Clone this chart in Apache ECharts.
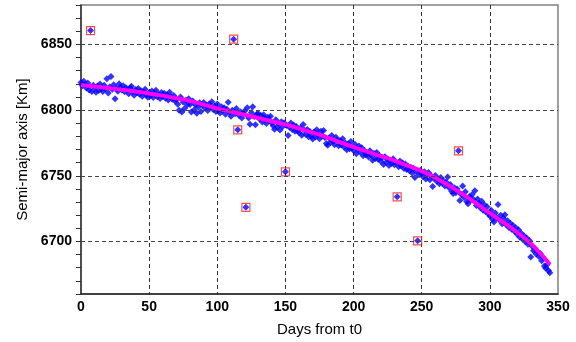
<!DOCTYPE html>
<html>
<head>
<meta charset="utf-8">
<script src="https://cdn.jsdelivr.net/npm/echarts@6/dist/echarts.min.js"></script>
<style>
html,body{margin:0;padding:0;background:#fff;}
#chart{width:576px;height:342px;}
</style>
</head>
<body>
<div id="chart"></div>
<script>
// Daily semi-major axis samples [Km]; array index = day from t0
const semiMajor = [
  6821.0, 6818.5, 6822.0, 6819.5, 6816.8, 6820.7, 6815.3, 6860.5, 6814.2, 6819.0,
  6817.2, 6813.5, 6818.4, 6815.0, 6819.8, 6816.3, 6814.1, 6818.9, 6816.0, 6823.8,
  6813.0, 6817.5, 6825.5, 6815.8, 6819.2, 6808.6, 6816.7, 6814.3, 6820.1, 6817.4,
  6815.2, 6818.6, 6813.9, 6817.0, 6815.5, 6812.4, 6816.8, 6818.2, 6814.0, 6811.3,
  6815.6, 6813.2, 6816.4, 6812.0, 6814.7, 6810.5, 6813.8, 6815.9, 6811.6, 6809.8,
  6813.4, 6811.0, 6814.6, 6809.5, 6812.8, 6815.1, 6810.2, 6812.0, 6808.8, 6813.3,
  6810.4, 6812.9, 6809.0, 6811.7, 6807.6, 6813.5, 6810.1, 6808.3, 6811.2, 6806.9,
  6808.2, 6804.5, 6799.8, 6810.0, 6798.6, 6806.1, 6801.2, 6807.5, 6804.0, 6808.7,
  6804.3, 6798.5, 6806.9, 6800.1, 6803.8, 6797.6, 6802.4, 6805.6, 6799.0, 6803.9,
  6805.8, 6801.5, 6803.9, 6799.7, 6804.6, 6802.2, 6806.3, 6800.4, 6803.1, 6798.9,
  6804.7, 6800.2, 6797.8, 6802.5, 6799.6, 6801.8, 6796.9, 6800.7, 6806.0, 6798.3,
  6795.4, 6799.9, 6854.0, 6797.2, 6801.3, 6785.0, 6795.8, 6798.7, 6793.9, 6797.6,
  6799.4, 6726.0, 6801.7, 6794.0, 6789.3, 6798.2, 6802.6, 6795.1, 6788.9, 6796.8,
  6797.5, 6793.2, 6795.9, 6791.0, 6796.4, 6793.8, 6789.7, 6794.6, 6792.1, 6795.3,
  6790.2, 6788.0, 6785.4, 6792.6, 6786.9, 6789.8, 6784.9, 6791.1, 6787.6, 6790.4,
  6753.0, 6788.2, 6780.6, 6786.9, 6790.1, 6785.3, 6788.6, 6783.9, 6787.5, 6784.2,
  6782.8, 6786.3, 6780.9, 6789.0, 6784.6, 6781.5, 6785.2, 6779.8, 6783.7, 6780.3,
  6777.9, 6783.4, 6779.6, 6785.1, 6781.0, 6778.2, 6783.8, 6780.5, 6784.4, 6779.1,
  6774.6, 6773.2, 6778.8, 6775.4, 6780.7, 6776.1, 6773.7, 6779.3, 6777.0, 6772.9,
  6776.8, 6773.5, 6778.2, 6771.9, 6775.0, 6769.8, 6774.3, 6770.6, 6776.0, 6771.2,
  6769.2, 6774.0, 6766.8, 6770.5, 6772.6, 6767.9, 6771.4, 6765.3, 6769.1, 6766.0,
  6767.4, 6764.2, 6769.0, 6765.7, 6761.8, 6766.9, 6763.1, 6767.8, 6762.5, 6765.2,
  6761.1, 6763.9, 6758.6, 6764.4, 6760.2, 6762.8, 6757.9, 6761.6, 6759.4, 6763.0,
  6758.3, 6760.5, 6734.0, 6756.9, 6761.2, 6757.5, 6759.8, 6755.6, 6758.9, 6754.7,
  6757.2, 6753.9, 6756.4, 6752.1, 6755.8, 6748.6, 6753.3, 6700.5, 6750.7, 6754.2,
  6751.8, 6749.3, 6753.0, 6747.5, 6750.6, 6752.4, 6746.9, 6749.8, 6741.9, 6748.1,
  6750.2, 6745.8, 6747.6, 6743.9, 6748.7, 6744.5, 6746.2, 6742.3, 6745.1, 6749.0,
  6741.0, 6743.4, 6738.2, 6736.5, 6740.8, 6737.1, 6739.9, 6769.0, 6731.2, 6735.8,
  6742.3, 6733.6, 6737.9, 6730.4, 6728.7, 6734.2, 6731.5, 6735.7, 6732.0, 6738.6,
  6727.4, 6732.3, 6729.1, 6725.6, 6730.7, 6723.8, 6727.9, 6722.6, 6726.4, 6720.9,
  6719.3, 6723.7, 6716.8, 6714.9, 6721.6, 6718.0, 6728.2, 6716.4, 6719.9, 6713.5,
  6717.6, 6720.3, 6712.8, 6715.7, 6710.6, 6713.9, 6709.2, 6712.1, 6707.8, 6710.4,
  6705.5, 6708.9, 6703.2, 6706.3, 6701.7, 6704.4, 6699.8, 6702.6, 6697.9, 6700.8,
  6688.2, 6696.3, 6693.0, 6694.7, 6690.4, 6692.1, 6688.6, 6690.9, 6685.3, 6687.7,
  6681.4, 6679.6, 6682.3, 6677.9, 6676.2
];

// Flagged outliers (red boxes)
const outlierDays   = [7, 112, 115, 121, 150, 232, 247, 277];
const outlierValues = [6860.5, 6854.0, 6785.0, 6726.0, 6753.0, 6734.0, 6700.5, 6769.0];

// Fitted trend curve
const fitDays   = [0, 10, 20, 30, 40, 50, 60, 70, 80, 90, 100, 110, 120, 130, 140, 150, 160, 170,
                   180, 190, 200, 210, 220, 230, 240, 250, 260, 270, 280, 290, 300, 310, 320, 330, 340, 344];
const fitValues = [6819.0, 6818.0, 6816.8, 6815.5, 6814.2, 6812.7, 6811.0, 6809.0, 6807.0, 6804.2,
                   6801.3, 6798.8, 6796.5, 6794.0, 6791.5, 6789.0, 6786.0, 6782.8, 6779.4, 6775.6,
                   6771.8, 6768.4, 6765.0, 6761.6, 6757.6, 6753.5, 6748.5, 6742.5, 6736.0, 6729.0,
                   6721.5, 6714.5, 6707.0, 6698.5, 6687.5, 6682.5];

// Axis labels / ticks
const yLabelValues = [6700, 6750, 6800, 6850];
const xName = 'Days from t0';
const yName = 'Semi-major axis [Km]';

const scatterData = semiMajor.map((v, i) => [i, v]);
const outlierData = outlierDays.map((d, i) => [d, outlierValues[i]]);
const fitData = fitDays.map((d, i) => [d, fitValues[i]]);

const chart = echarts.init(document.getElementById('chart'), null, {renderer: 'canvas'});
chart.setOption({
  animation: false,
  backgroundColor: '#ffffff',
  grid: {left: 81, right: 18, top: 5, bottom: 44, show: true, borderColor: '#808080', borderWidth: 1.5, backgroundColor: 'transparent'},
  xAxis: {
    type: 'value', min: 0, max: 350, interval: 50,
    name: xName, nameLocation: 'middle', nameGap: 28,
    nameTextStyle: {fontFamily: 'Liberation Sans, Arial, sans-serif', fontSize: 15, color: '#000'},
    axisLine: {show: true, onZero: false, lineStyle: {color: '#222', width: 1.5}},
    axisTick: {show: false},
    axisLabel: {fontFamily: 'Liberation Sans, Arial, sans-serif', fontSize: 14, fontWeight: 'bold', color: '#000', margin: 6},
    splitLine: {show: true, showMinLine: false, showMaxLine: false, lineStyle: {color: '#333', width: 1, type: [4, 3]}}
  },
  yAxis: {
    type: 'value', min: 6660, max: 6880, interval: 10,
    name: yName, nameLocation: 'middle', nameGap: 51, nameRotate: 90,
    nameTextStyle: {fontFamily: 'Liberation Sans, Arial, sans-serif', fontSize: 15, color: '#000'},
    axisLine: {show: true, onZero: false, lineStyle: {color: '#333', width: 1.5}},
    axisTick: {show: true, length: 5, lineStyle: {color: '#333', width: 1}},
    axisLabel: {
      fontFamily: 'Liberation Sans, Arial, sans-serif', fontSize: 14, fontWeight: 'bold', color: '#000', margin: 9,
      formatter: v => (yLabelValues.indexOf(v) >= 0 ? String(v) : '')
    },
    splitLine: {show: false}
  },
  series: [
    {
      type: 'line', data: [], silent: true, z: 1,
      markLine: {
        silent: true, symbol: ['none', 'none'], label: {show: false},
        lineStyle: {color: '#444', width: 1, type: [4, 3]},
        data: yLabelValues.map(v => ({yAxis: v}))
      }
    },
    {
      type: 'scatter', data: scatterData, symbol: 'diamond', symbolSize: 7, z: 2,
      itemStyle: {color: '#0000ff'}
    },
    {
      type: 'scatter', data: outlierData, symbol: 'rect', symbolSize: 8, z: 3,
      itemStyle: {color: 'rgba(0,0,0,0)', borderColor: '#ff2020', borderWidth: 1.2}
    },
    {
      type: 'line', data: fitData, smooth: 0.3, showSymbol: false, symbol: 'none', z: 4,
      lineStyle: {color: '#ff00ff', width: 4}
    }
  ]
});
</script>
</body>
</html>
